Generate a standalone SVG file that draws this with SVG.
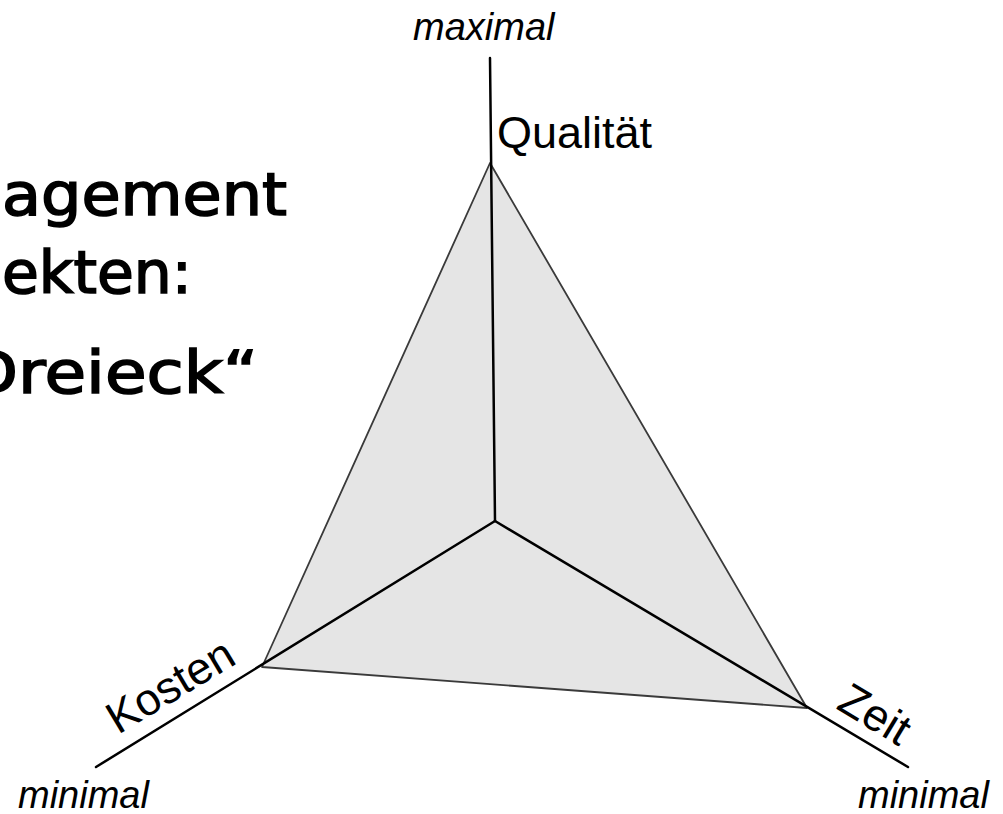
<svg xmlns="http://www.w3.org/2000/svg" width="1003" height="814" viewBox="0 0 1003 814">
<style>
.title{font-family:"DejaVu Sans",Verdana,sans-serif;font-weight:normal;font-size:58px;fill:#000;stroke:#000;stroke-width:1.6}
.lbl{font-family:"Liberation Sans",Arial,sans-serif;font-size:45px;fill:#000}
.ext{font-family:"Liberation Sans",Arial,sans-serif;font-style:italic;font-size:38px;fill:#000}
.axis{stroke:#000;stroke-width:2.5;fill:none;stroke-linecap:round}
.edge{stroke:#3a3a3a;stroke-width:1.8;fill:#e5e5e5;stroke-linejoin:round}
</style>
<rect width="1003" height="814" fill="#fff"/>
<g id="title">
<text class="title" x="2" y="215" textLength="285" lengthAdjust="spacingAndGlyphs">agement</text>
<text class="title" x="2" y="293" textLength="190" lengthAdjust="spacingAndGlyphs">ekten:</text>
<text class="title" x="258" y="393" text-anchor="end" textLength="292" lengthAdjust="spacingAndGlyphs">Dreieck“</text>
</g>
<g id="triangle">
<polygon class="edge" points="490,163 262,667 807,708"/>
</g>
<g id="connectors">
<line class="axis" x1="490" y1="58" x2="495" y2="521"/>
<line class="axis" x1="495" y1="521" x2="96" y2="767"/>
<line class="axis" x1="495" y1="521" x2="908" y2="767"/>
</g>
<g id="node-qualitaet">
<text class="ext" x="413" y="40">maximal</text>
<text class="lbl" x="497" y="148">Qualität</text>
</g>
<g id="node-kosten">
<text class="lbl" transform="translate(118,735) rotate(-31)">Kosten</text>
<text class="ext" x="18" y="808">minimal</text>
</g>
<g id="node-zeit">
<text class="lbl" transform="translate(835,708) rotate(31)">Zeit</text>
<text class="ext" x="858" y="808">minimal</text>
</g>
</svg>
